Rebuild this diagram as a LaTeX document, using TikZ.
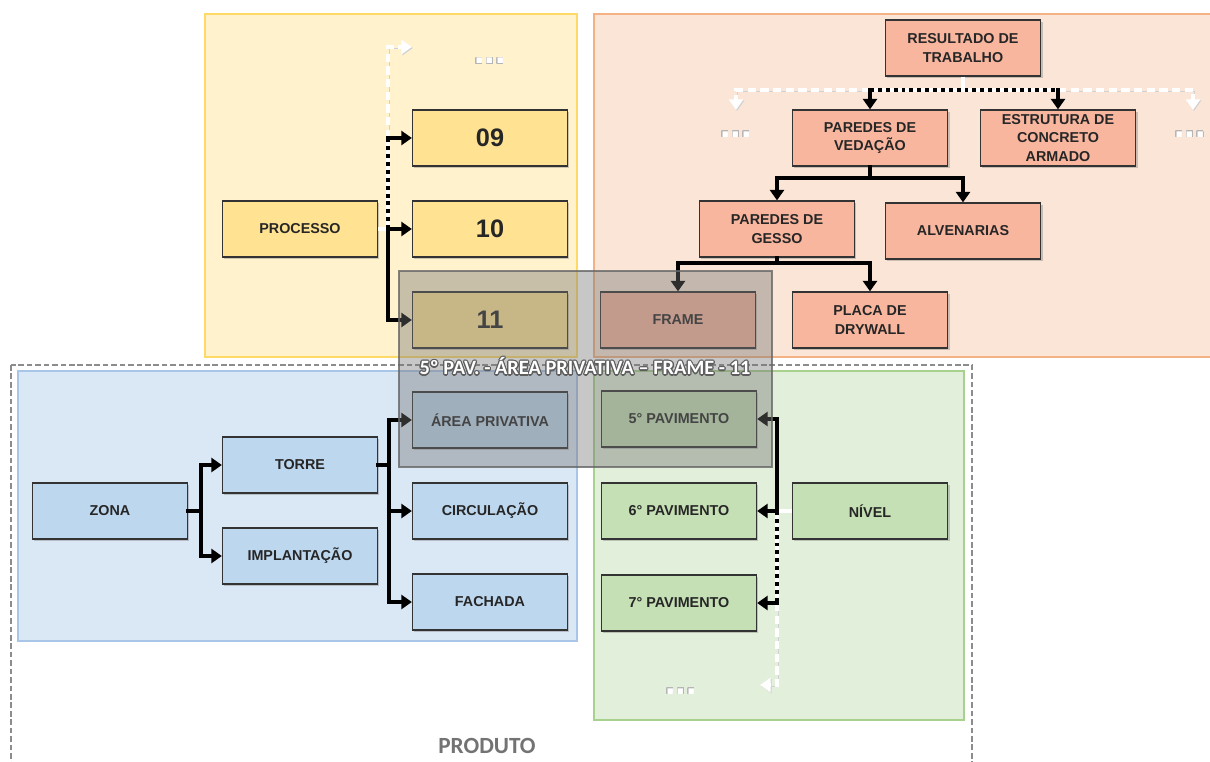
\documentclass[tikz,border=0pt]{standalone}
\usepackage{fontspec}
\usepackage{contour}
\setmainfont{Liberation Sans}
\newfontfamily\calib{Carlito}
\usetikzlibrary{arrows.meta,shadows}
\definecolor{ypan}{HTML}{FFF2CC}
\definecolor{yborder}{HTML}{FFD966}
\definecolor{ynode}{HTML}{FFE393}
\definecolor{opan}{HTML}{FBE5D6}
\definecolor{oborder}{HTML}{F4B183}
\definecolor{onode}{HTML}{F8B69E}
\definecolor{bpan}{HTML}{DAE7F5}
\definecolor{bborder}{HTML}{A9C6E8}
\definecolor{bnode}{HTML}{BDD7EE}
\definecolor{gpan}{HTML}{E2EFDA}
\definecolor{gborder}{HTML}{A9D18E}
\definecolor{gnode}{HTML}{C5E0B4}
\definecolor{txt}{HTML}{262626}
\definecolor{halo}{HTML}{5E5E5E}
\definecolor{dothalo}{HTML}{B5B5B5}
\tikzset{
  box/.style={draw=black!80, line width=0.9pt, minimum width=3.875cm, minimum height=1.4cm,
    inner sep=1pt, align=center, font=\fontsize{10.2}{13}\selectfont\bfseries, text=txt,
    drop shadow={shadow xshift=1.4pt, shadow yshift=-1.4pt, opacity=0.4}},
  ybox/.style={box, fill=ynode},
  numbox/.style={ybox, font=\fontsize{18}{20}\selectfont\bfseries},
  obox/.style={box, fill=onode},
  bluebox/.style={box, fill=bnode},
  greenbox/.style={box, fill=gnode},
  blkline/.style={draw=black, line width=3pt, line cap=rect},
  blk/.style={blkline, -{Triangle[width=10pt,length=7.5pt]}},
  bw/.style={draw=white, line width=3pt, postaction={draw=black, dash pattern=on 2.8pt off 2.8pt}},
  wline/.style={draw=white, line width=2.6pt, preaction={draw=black!15, line width=3.2pt}},
  wdarrow/.style={draw=white, line width=2.8pt, dash pattern=on 6pt off 3pt,
    preaction={draw=black!18, transform canvas={shift={(0.7pt,-0.7pt)}}}, -{Triangle[width=10pt,length=7.5pt]}},
  dotsnode/.style={font=\fontsize{27}{27}\selectfont\bfseries, anchor=base, text=white},
  panel/.style={line width=1.8pt},
  lblfont/.style={font=\calib\bfseries\fontsize{14.5}{16}\selectfont},
}
\begin{document}
\begin{tikzpicture}[x=0.025cm,y=-0.025cm]
\useasboundingbox (0,0) rectangle (1210,762);
\clip (0,0) rectangle (1210,762);
\fill[white] (0,0) rectangle (1210,762);
% panels
\draw[panel, fill=ypan, draw=yborder] (205,14) rectangle (577,357);
\draw[panel, fill=opan, draw=oborder] (594,14) rectangle (1225,357);
\draw[black!45, line width=1.5pt, dash pattern=on 4pt off 2pt] (11,365) rectangle (972,790);
\draw[panel, fill=bpan, draw=bborder] (18,371) rectangle (577,641);
\draw[panel, fill=gpan, draw=gborder] (594,371) rectangle (964,720);
% process nodes
\node[ybox] (proc) at (300,229) {PROCESSO};
\node[numbox] (n09) at (490,138) {09};
\node[numbox] (n10) at (490,229) {10};
\node[numbox] (n11) at (490,320) {11};
% result nodes
\node[obox] (res) at (963,48) {RESULTADO DE\\TRABALHO};
\node[obox] (ved) at (870,138) {PAREDES DE\\VEDAÇÃO};
\node[obox] (est) at (1058,138) {ESTRUTURA DE\\CONCRETO\\ARMADO};
\node[obox] (ges) at (777,229) {PAREDES DE\\GESSO};
\node[obox] (alv) at (963,231) {ALVENARIAS};
\node[obox] (frm) at (678,320) {FRAME};
\node[obox] (plc) at (870,320) {PLACA DE\\DRYWALL};
% zone nodes
\node[bluebox] (zona) at (110,511) {ZONA};
\node[bluebox] (tor) at (300,465) {TORRE};
\node[bluebox] (imp) at (300,556) {IMPLANTAÇÃO};
\node[bluebox] (are) at (490,420) {ÁREA PRIVATIVA};
\node[bluebox] (circ) at (490,511) {CIRCULAÇÃO};
\node[bluebox] (fac) at (490,602) {FACHADA};
% level nodes
\node[greenbox] (p5) at (679,419) {5° PAVIMENTO};
\node[greenbox] (p6) at (679,511) {6° PAVIMENTO};
\node[greenbox] (p7) at (679,603) {7° PAVIMENTO};
\node[greenbox] (niv) at (870,511) {NÍVEL};
% dots
\contourlength{0.5pt}
\node[dotsnode] (d1) at (490,64) {\contour{dothalo}{...}};
\node[dotsnode] (d2) at (736,137) {\contour{dothalo}{...}};
\node[dotsnode] (d3) at (1190,137) {\contour{dothalo}{...}};
\node[dotsnode] (d4) at (681,694) {\contour{dothalo}{...}};
% process connectors
\coordinate (jP) at (388,229);
\coordinate (jP9) at (jP |- n09.west);
\coordinate (pTop) at (388,47);
\coordinate (pEnd) at (412,47);
\draw[wdarrow] (jP9) -- (pTop) -- (pEnd);
\draw[wline] (proc.east) -- (jP);
\draw[blk] (jP) -- (n10.west);
\draw[blk] (jP) |- (n11.west);
\draw[bw] (jP) -- (jP9);
\draw[blk] (jP9) -- (n09.west);
% result connectors
\coordinate (jR) at (963,90);
\coordinate (jRl) at (ved.north |- jR);
\coordinate (jRr) at (est.north |- jR);
\coordinate (jRll) at (736,90);
\coordinate (jRrr) at (1193,90);
\coordinate (eL) at (736,110);
\coordinate (eR) at (1193,110);
\draw[wdarrow] (jRl) -- (jRll) -- (eL);
\draw[wdarrow] (jRr) -- (jRrr) -- (eR);
\draw[bw] (jRl) -- (jRr);
\draw[wline] (res.south) -- (jR);
\draw[blk] (jRl) -- (ved.north);
\draw[blk] (jRr) -- (est.north);
\coordinate (jV) at (870,178);
\draw[blkline] (ved.south) -- (jV);
\draw[blk] (jV) -| (ges.north);
\draw[blk] (jV) -| (alv.north);
\coordinate (jG) at (777,263);
\draw[blkline] (ges.south) -- (jG);
\draw[blk] (jG) -| (frm.north);
\draw[blk] (jG) -| (plc.north);
% zone connectors
\coordinate (jZ) at (201,511);
\draw[blkline] (zona.east) -- (jZ);
\draw[blk] (jZ) |- (tor.west);
\draw[blk] (jZ) |- (imp.west);
\coordinate (jT) at (389,465);
\draw[blkline] (tor.east) -- (jT);
\draw[blk] (jT) |- (are.west);
\draw[blk] (jT) |- (circ.west);
\draw[blk] (jT) |- (fac.west);
% level connectors
\coordinate (jN) at (777,511);
\coordinate (jN7) at (jN |- p7.east);
\coordinate (nBot) at (777,685);
\coordinate (nEnd) at (760,685);
\draw[wdarrow] (jN7) -- (nBot) -- (nEnd);
\draw[wline] (niv.west) -- (jN);
\draw[blk] (jN) -- (p6.east);
\draw[blk] (jN) |- (p5.east);
\draw[bw] (jN) -- (jN7);
\draw[blk] (jN7) -- (p7.east);
% overlay
\draw[fill=black!55, fill opacity=0.4, draw=black!60, draw opacity=0.8, line width=1.6pt] (399,271) rectangle (772,467);
\contourlength{0.8pt}
\node[lblfont, text=white] (lbl) at (585,367) {\contour{halo}{5º PAV. - ÁREA PRIVATIVA – FRAME - 11}};
\node[font=\calib\bfseries\fontsize{16.5}{18}\selectfont, text=black!55] (prod) at (487,746) {PRODUTO};
\end{tikzpicture}
\end{document}
